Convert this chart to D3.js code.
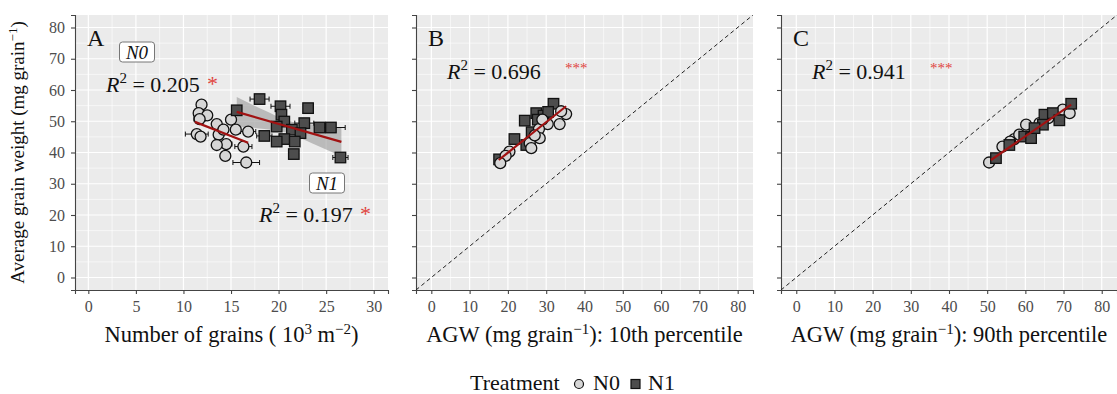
<!DOCTYPE html>
<html>
<head>
<meta charset="utf-8">
<script src="https://cdn.jsdelivr.net/npm/d3@7"></script>
<style>
  body { margin: 0; background: #fff; }
</style>
</head>
<body>
<svg id="chart" width="1117" height="394"></svg>
<script>
// ---- data ----
// panel A: number of grains (10^3 m-2) vs average grain weight
const aN0x   = [11.9, 11.6, 12.5, 11.7, 13.5, 15.0, 15.5, 16.8, 11.4, 11.8, 13.7, 14.5, 13.5, 16.3, 14.4, 16.6, 14.2];
const aN0y   = [55.3, 52.6, 51.9, 50.7, 49.1, 50.5, 47.3, 46.7, 45.9, 45.1, 45.7, 42.7, 42.4, 41.9, 38.9, 36.8, 47.3];
const aN0err = [0.4, 0.5, 0.3, 0.6, 0.4, 0.5, 0.3, 0.8, 1.2, 0.5, 0.4, 0.6, 0.3, 0.9, 0.4, 1.4, 0.3];
const aN1x   = [18.0, 20.2, 23.1, 15.6, 20.3, 20.6, 22.7, 19.8, 24.3, 25.5, 21.4, 22.3, 18.5, 20.6, 19.8, 21.7, 21.6, 26.5];
const aN1y   = [57.1, 54.8, 54.2, 53.5, 52.1, 49.9, 49.4, 48.3, 48.0, 48.0, 47.3, 46.2, 45.3, 44.3, 43.5, 43.5, 39.5, 38.4];
const aN1err = [1.0, 1.0, 0.3, 0.5, 0.4, 0.3, 1.0, 0.4, 0.3, 1.5, 0.4, 0.5, 0.8, 0.4, 0.3, 0.4, 0.3, 0.8];
// fitted lines and band in A
const fitN0x = [11.2, 16.8], fitN0y = [49.8, 43.1];
const fitN1x = [15.6, 26.6], fitN1y = [53.0, 43.4];
const bandX  = [15.6, 18.5, 21.0, 23.5, 26.6];
const bandLo = [48.3, 47.5, 46.2, 43.0, 38.8];
const bandHi = [57.8, 53.5, 50.2, 49.0, 48.0];

// panel B: 10th percentile AGW vs average grain weight
const bN0x = [35.2, 33.9, 33.5, 30.4, 28.1, 28.3, 25.7, 26.1, 20.4, 19.4, 18.0, 29.0, 27.0];
const bN0y = [52.3, 53.2, 49.1, 49.1, 47.5, 44.6, 43.0, 41.4, 40.3, 38.9, 36.6, 50.5, 45.5];
const bN1x = [31.9, 27.4, 29.3, 24.4, 21.7, 24.8, 17.7, 27.8, 30.5, 26.2];
const bN1y = [55.6, 52.6, 51.8, 50.2, 44.3, 42.4, 37.8, 50.5, 53.0, 46.5];
const fitBx = [17.6, 35.2], fitBy = [37.6, 54.8];

// panel C: 90th percentile AGW vs average grain weight
const cN0x = [50.5, 54.0, 57.1, 60.2, 63.7, 69.8, 71.6, 58.4, 56.0, 66.0];
const cN0y = [36.8, 41.9, 44.3, 48.9, 49.4, 53.7, 52.6, 45.7, 43.5, 51.0];
const cN1x = [52.3, 55.8, 59.7, 61.5, 65.0, 67.2, 68.9, 72.0, 64.6, 62.4];
const cN1y = [38.2, 42.4, 45.1, 44.6, 52.1, 52.6, 50.3, 55.6, 48.9, 47.8];
const fitCx = [51.0, 72.0], fitCy = [37.6, 55.3];

const yTicks = [0, 10, 20, 30, 40, 50, 60, 70, 80];
const yMinor = [5, 15, 25, 35, 45, 55, 65, 75];
const aTicks = [0, 5, 10, 15, 20, 25, 30];
const aMinor = [2.5, 7.5, 12.5, 17.5, 22.5, 27.5];
const pTicks = [0, 10, 20, 30, 40, 50, 60, 70, 80];
const pMinor = [5, 15, 25, 35, 45, 55, 65, 75];

const FONT = "'Liberation Serif', 'Times New Roman', Times, serif";
const svg = d3.select("#chart").style("font-family", FONT);
const pTop = 15, pBottom = 290;
const y = d3.scaleLinear().domain([-4, 84]).range([pBottom, pTop]);

const panels = [
    { tag: "A", left: 75, right: 388, dom: [-1.4, 31.5], ticks: aTicks, minor: aMinor, yLabels: true,
      title: ["Number of grains ( 10", "3", " m", "\u22122", ")"] },
    { tag: "B", left: 416, right: 753, dom: [-4, 84], ticks: pTicks, minor: pMinor, yLabels: false, diag: true,
      title: ["AGW (mg grain", "\u22121", "): 10th percentile"] },
    { tag: "C", left: 781, right: 1117, dom: [-4, 84], ticks: pTicks, minor: pMinor, yLabels: false, diag: true,
      title: ["AGW (mg grain", "\u22121", "): 90th percentile"] }
];

const zip = (xs, ys, es) => xs.map((v, i) => ({ x: v, y: ys[i], e: es ? es[i] : 0 }));

function drawPanel(p, i) {
    const x = d3.scaleLinear().domain(p.dom).range([p.left, p.right]);
    p.x = x;
    const g = svg.append("g");
    const clipId = "clip" + i;
    svg.append("clipPath").attr("id", clipId)
        .append("rect").attr("x", p.left).attr("y", pTop)
        .attr("width", p.right - p.left).attr("height", pBottom - pTop);

    g.append("rect").attr("x", p.left).attr("y", pTop)
        .attr("width", p.right - p.left).attr("height", pBottom - pTop)
        .attr("fill", "#ebebeb");

    // grid
    g.selectAll(".vmin").data(p.minor).join("line")
        .attr("x1", d => x(d)).attr("x2", d => x(d)).attr("y1", pTop).attr("y2", pBottom)
        .attr("stroke", "#fff").attr("stroke-width", 0.6);
    g.selectAll(".hmin").data(yMinor).join("line")
        .attr("x1", p.left).attr("x2", p.right).attr("y1", d => y(d)).attr("y2", d => y(d))
        .attr("stroke", "#fff").attr("stroke-width", 0.6);
    g.selectAll(".vmaj").data(p.ticks).join("line")
        .attr("x1", d => x(d)).attr("x2", d => x(d)).attr("y1", pTop).attr("y2", pBottom)
        .attr("stroke", "#fff").attr("stroke-width", 1.2);
    g.selectAll(".hmaj").data(yTicks).join("line")
        .attr("x1", p.left).attr("x2", p.right).attr("y1", d => y(d)).attr("y2", d => y(d))
        .attr("stroke", "#fff").attr("stroke-width", 1.2);

    // axes
    const xAxis = g.append("g").attr("transform", `translate(0,${pBottom})`)
        .call(d3.axisBottom(x).tickValues(p.ticks).tickSize(4).tickPadding(7));
    const yAxis = g.append("g").attr("transform", `translate(${p.left},0)`)
        .call(d3.axisLeft(y).tickValues(yTicks).tickSize(4).tickPadding(6)
            .tickFormat(p.yLabels ? d3.format("d") : () => ""));
    [xAxis, yAxis].forEach(a => {
        a.attr("font-family", null).attr("font-size", null);
        a.select(".domain").attr("stroke", "#444").attr("stroke-width", 1.1);
        a.selectAll(".tick line").attr("stroke", "#444").attr("stroke-width", 1.1);
        a.selectAll(".tick text").attr("fill", "#4d4d4d")
            .style("font-family", FONT).style("font-size", "16px");
    });

    if (p.diag) {
        g.append("line").attr("clip-path", `url(#${clipId})`)
            .attr("x1", x(-4)).attr("y1", y(-4)).attr("x2", x(84)).attr("y2", y(84))
            .attr("stroke", "#222").attr("stroke-width", 1).attr("stroke-dasharray", "4,3");
    }

    // panel tag
    g.append("text").attr("x", p.left + 12).attr("y", pTop + 31)
        .style("font-size", "24px").attr("fill", "#111").text(p.tag);

    // axis title
    const t = g.append("text").attr("x", (p.left + p.right) / 2).attr("y", 342)
        .attr("text-anchor", "middle").style("font-size", "22.5px").attr("fill", "#111");
    p.title.forEach((s, k) => {
        const sup = k % 2 === 1;
        t.append("tspan").attr("dy", sup ? -8 : (k > 0 ? 8 : 0))
            .style("font-size", sup ? "15px" : "22.5px").text(s);
    });
    return g;
}

panels.forEach(drawPanel);

function errorBars(g, x, data) {
    const eb = g.append("g").selectAll("g").data(data.filter(d => d.e > 0)).join("g");
    eb.append("line").attr("x1", d => x(d.x - d.e)).attr("x2", d => x(d.x + d.e))
        .attr("y1", d => y(d.y)).attr("y2", d => y(d.y)).attr("stroke", "#111").attr("stroke-width", 1);
    eb.append("line").attr("x1", d => x(d.x - d.e)).attr("x2", d => x(d.x - d.e))
        .attr("y1", d => y(d.y) - 2.5).attr("y2", d => y(d.y) + 2.5).attr("stroke", "#111");
    eb.append("line").attr("x1", d => x(d.x + d.e)).attr("x2", d => x(d.x + d.e))
        .attr("y1", d => y(d.y) - 2.5).attr("y2", d => y(d.y) + 2.5).attr("stroke", "#111");
}

function circles(g, x, data) {
    g.append("g").selectAll("circle").data(data).join("circle")
        .attr("cx", d => x(d.x)).attr("cy", d => y(d.y)).attr("r", 5.5)
        .attr("fill", "#d6d6d6").attr("stroke", "#111").attr("stroke-width", 1.3);
}

function squares(g, x, data) {
    const s = 10.5;
    g.append("g").selectAll("rect").data(data).join("rect")
        .attr("x", d => x(d.x) - s / 2).attr("y", d => y(d.y) - s / 2)
        .attr("width", s).attr("height", s)
        .attr("fill", "#4d4d4d").attr("stroke", "#111").attr("stroke-width", 1.3);
}

function fitLine(g, x, xs, ys) {
    g.append("path").datum(zip(xs, ys))
        .attr("d", d3.line().x(d => x(d.x)).y(d => y(d.y)))
        .attr("fill", "none").attr("stroke", "#a11212").attr("stroke-width", 2.2);
}

const gA = svg.append("g"), xA = panels[0].x;
gA.append("path").datum(bandX.map((v, i) => ({ x: v, lo: bandLo[i], hi: bandHi[i] })))
    .attr("d", d3.area().curve(d3.curveMonotoneX).x(d => xA(d.x)).y0(d => y(d.lo)).y1(d => y(d.hi)))
    .attr("fill", "#999").attr("fill-opacity", 0.6);
const aN0 = zip(aN0x, aN0y, aN0err), aN1 = zip(aN1x, aN1y, aN1err);
errorBars(gA, xA, aN0);
errorBars(gA, xA, aN1);
circles(gA, xA, aN0);
squares(gA, xA, aN1);
fitLine(gA, xA, fitN0x, fitN0y);
fitLine(gA, xA, fitN1x, fitN1y);

const gB = svg.append("g"), xB = panels[1].x;
squares(gB, xB, zip(bN1x, bN1y));
circles(gB, xB, zip(bN0x, bN0y));
fitLine(gB, xB, fitBx, fitBy);

const gC = svg.append("g"), xC = panels[2].x;
circles(gC, xC, zip(cN0x, cN0y));
squares(gC, xC, zip(cN1x, cN1y));
fitLine(gC, xC, fitCx, fitCy);

// annotations
function r2(g, px, py, val, stars, gap) {
    const t = g.append("text").attr("x", px).attr("y", py).style("font-size", "22px").attr("fill", "#111");
    t.append("tspan").style("font-style", "italic").text("R");
    t.append("tspan").attr("dy", -9).style("font-size", "15px").text("2");
    t.append("tspan").attr("dy", 9).text(" = " + val);
    const w = t.node().getComputedTextLength();
    g.append("text").attr("x", px + w + gap).attr("y", py - (stars.length > 1 ? 6 : 1))
        .style("font-size", stars.length > 1 ? "15px" : "22px").attr("fill", "#e0443e").text(stars);
}
function boxLabel(g, cx, cy, s) {
    const w = 35, h = 20;
    g.append("rect").attr("x", cx - w / 2).attr("y", cy - h / 2).attr("width", w).attr("height", h)
        .attr("rx", 3).attr("fill", "#fff").attr("stroke", "#777").attr("stroke-width", 1);
    g.append("text").attr("x", cx).attr("y", cy + 6.5).attr("text-anchor", "middle")
        .style("font-size", "19px").style("font-style", "italic").attr("fill", "#111").text(s);
}
boxLabel(gA, 137, 52, "N0");
r2(gA, 106, 92, "0.205", "*", 7);
boxLabel(gA, 327, 183, "N1");
r2(gA, 259, 222, "0.197", "*", 7);
r2(gB, 447, 79, "0.696", "***", 24);
r2(gC, 812, 79, "0.941", "***", 24);

// y axis title
const yt = svg.append("text").attr("transform", `translate(24,${(pTop + pBottom) / 2}) rotate(-90)`)
    .attr("text-anchor", "middle").style("font-size", "19px").attr("fill", "#111");
yt.append("tspan").text("Average grain weight (mg grain");
yt.append("tspan").attr("dy", -7).style("font-size", "13px").text("\u22121");
yt.append("tspan").attr("dy", 7).text(")");

// legend
const lg = svg.append("g");
lg.append("text").attr("x", 470).attr("y", 390).style("font-size", "22px").attr("fill", "#111").text("Treatment");
lg.append("circle").attr("cx", 579).attr("cy", 384).attr("r", 4.5)
    .attr("fill", "#d6d6d6").attr("stroke", "#111").attr("stroke-width", 1.2);
lg.append("text").attr("x", 593).attr("y", 390).style("font-size", "22px").attr("fill", "#111").text("N0");
lg.append("rect").attr("x", 631).attr("y", 379.5).attr("width", 9).attr("height", 9)
    .attr("fill", "#4d4d4d").attr("stroke", "#111").attr("stroke-width", 1.2);
lg.append("text").attr("x", 648).attr("y", 390).style("font-size", "22px").attr("fill", "#111").text("N1");
</script>
</body>
</html>
